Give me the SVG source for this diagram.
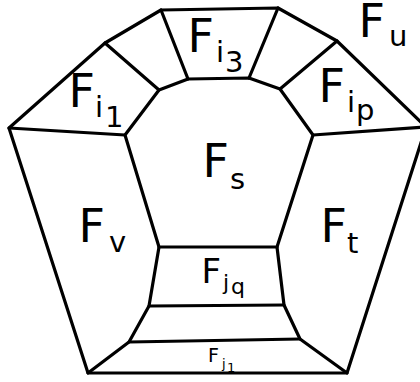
<svg xmlns="http://www.w3.org/2000/svg" width="420" height="382" viewBox="0 0 420 382">
<style>
.e{fill:none;stroke:#000;stroke-width:3.2;stroke-linejoin:round;stroke-linecap:round}
text{font-family:"DejaVu Sans",sans-serif;fill:#000}
.big{font-size:46px}
.sub{font-size:29px}
</style>
<rect width="420" height="382" fill="#fff"/>
<g id="connectors" class="e">
<path d="M9,128 L105,43 L161,10 L278,8 L337,41 L426,127 L347,373 L88,373 Z"/>
<path d="M125,135 L159,90 L188,79 L249,78 L280,89 L313,135 L277,247 L159,247 Z"/>
<path d="M105,43 L159,90"/>
<path d="M161,10 L188,79"/>
<path d="M278,8 L249,78"/>
<path d="M337,41 L280,89"/>
<path d="M9,128 L125,135"/>
<path d="M313,135 L426,127"/>
<path d="M159,247 L149,306 L129,342 L88,373"/>
<path d="M277,247 L284,305 L300,339 L347,373"/>
<path d="M149,306 L284,305"/>
<path d="M129,342 L300,339"/>
</g>
<g id="face-u"><text class="big" x="358.5" y="37">F<tspan class="sub" x="389" y="46">u</tspan></text></g>
<g id="face-i3"><text class="big" x="187.5" y="52">F<tspan class="sub" x="216" y="62">i</tspan><tspan class="sub" x="225" y="72">3</tspan></text></g>
<g id="face-i1"><text class="big" x="68.5" y="107">F<tspan class="sub" x="95" y="117">i</tspan><tspan class="sub" x="105" y="127">1</tspan></text></g>
<g id="face-ip"><text class="big" x="318.5" y="102">F<tspan class="sub" x="347" y="112">i</tspan><tspan class="sub" x="356" y="120">p</tspan></text></g>
<g id="face-s"><text class="big" x="202.5" y="177">F<tspan class="sub" x="230" y="189">s</tspan></text></g>
<g id="face-v"><text class="big" x="78.5" y="242">F<tspan class="sub" x="109" y="252">v</tspan></text></g>
<g id="face-t"><text class="big" x="320.5" y="242">F<tspan class="sub" x="347" y="253">t</tspan></text></g>
<g id="face-jq"><text x="201.5" y="283" font-size="34">F<tspan font-size="22" x="223" y="290">j</tspan><tspan font-size="22" x="231" y="294">q</tspan></text></g>
<g id="face-j1"><text x="208" y="362" font-size="19">F<tspan font-size="13" x="222" y="368">j</tspan><tspan font-size="13" x="227" y="372">1</tspan></text></g>
</svg>
